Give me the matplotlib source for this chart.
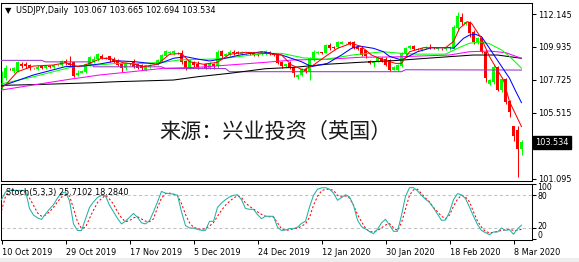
import matplotlib
matplotlib.use("Agg")
import matplotlib.pyplot as plt
import matplotlib.transforms as mtransforms
from matplotlib.patches import Rectangle

# ---------------- data ----------------
opens = [107.38, 107.85, 108.48, 108.30, 108.30, 108.82, 108.78, 108.72, 108.48, 108.45,
         108.62, 108.52, 108.68, 108.58, 108.72, 108.72, 108.97, 108.88, 108.90, 108.05,
         108.20, 108.25, 108.72, 108.90, 109.10, 109.35, 109.22, 109.30, 109.10, 109.00,
         108.80, 108.50, 108.80, 108.95, 108.80, 108.75, 108.40, 108.60, 108.70, 108.78,
         109.00, 109.35, 109.50, 109.50, 109.55, 109.50, 109.00, 108.55, 108.95, 108.80,
         108.58, 108.80, 108.55, 108.80, 108.65, 109.65, 109.35, 109.40, 109.60, 109.60,
         109.45, 109.45, 109.45, 109.55, 109.45, 109.45, 109.45, 109.60, 109.45, 109.50,
         108.92, 108.65, 108.85, 108.60, 107.88, 108.05, 108.45, 108.30, 109.10, 109.50,
         109.58, 109.55, 110.05, 109.95, 109.95, 110.15, 110.18, 110.25, 110.25, 109.95,
         109.85, 109.70, 109.00, 108.85, 108.95, 109.20, 109.15, 109.05, 108.40, 108.40,
         108.65, 109.45, 109.88, 110.00, 109.80, 109.70, 109.85, 109.95, 109.90, 109.80,
         109.82, 109.80, 109.85, 109.88, 111.23, 111.96, 111.45, 111.63, 110.96, 110.24,
         110.50, 109.60, 107.44, 107.60, 108.60, 107.04, 107.78, 106.30, 104.62, 104.35,
         103.067]
highs = [108.29, 108.72, 108.55, 108.60, 109.00, 108.95, 108.90, 108.80, 108.52, 108.70,
         108.70, 108.75, 108.75, 108.80, 108.78, 109.05, 109.10, 109.30, 108.95, 108.35,
         108.35, 108.85, 109.30, 109.30, 109.50, 109.45, 109.25, 109.35, 109.25, 109.10,
         108.90, 108.90, 108.85, 109.10, 108.85, 108.80, 108.75, 108.80, 108.75, 109.10,
         109.45, 109.70, 109.65, 109.70, 109.60, 109.70, 109.05, 109.10, 109.00, 109.00,
         108.60, 108.85, 108.90, 108.85, 109.70, 109.75, 109.50, 109.70, 109.75, 109.65,
         109.65, 109.50, 109.50, 109.60, 109.50, 109.65, 109.70, 109.65, 109.50, 109.55,
         109.00, 108.82, 109.00, 108.65, 108.10, 108.50, 108.60, 109.25, 109.70, 109.65,
         109.62, 110.10, 110.20, 110.00, 110.30, 110.30, 110.22, 110.30, 110.30, 110.00,
         109.95, 109.75, 109.05, 109.00, 109.30, 109.25, 109.25, 109.10, 108.65, 108.80,
         109.60, 109.95, 110.05, 110.05, 109.85, 109.92, 110.00, 110.15, 109.95, 109.90,
         109.85, 109.95, 110.00, 111.40, 112.28, 112.20, 111.65, 111.70, 111.05, 110.60,
         110.60, 109.70, 107.80, 108.70, 108.65, 107.90, 107.85, 106.40, 104.62, 104.60,
         103.665]
lows = [107.10, 107.71, 108.40, 108.20, 108.25, 108.55, 108.55, 108.40, 108.42, 108.40,
        108.45, 108.45, 108.50, 108.50, 108.68, 108.65, 108.70, 108.60, 107.90, 107.95,
        108.15, 108.20, 108.65, 108.85, 109.00, 109.10, 109.10, 108.95, 108.85, 108.65,
        108.25, 108.40, 108.75, 108.50, 108.45, 108.35, 108.30, 108.50, 108.65, 108.70,
        108.90, 109.30, 109.45, 109.40, 109.45, 108.80, 108.40, 108.45, 108.60, 108.45,
        108.52, 108.45, 108.45, 108.45, 108.55, 109.20, 109.30, 109.35, 109.40, 109.45,
        109.40, 109.40, 109.40, 109.35, 109.30, 109.40, 109.40, 109.40, 109.35, 108.80,
        108.55, 108.60, 108.45, 107.90, 107.80, 107.95, 108.20, 107.70, 109.00, 109.45,
        109.45, 109.50, 109.75, 109.80, 109.85, 110.10, 110.15, 110.05, 109.80, 109.75,
        109.30, 109.20, 108.80, 108.60, 108.90, 108.95, 108.65, 108.30, 108.35, 108.30,
        108.60, 109.40, 109.80, 109.70, 109.70, 109.65, 109.80, 109.80, 109.80, 109.75,
        109.75, 109.75, 109.70, 109.80, 111.00, 111.40, 111.40, 110.62, 110.10, 110.10,
        109.50, 107.55, 107.35, 107.45, 106.95, 106.90, 106.10, 105.20, 103.60, 101.20,
        102.694]
closes = [108.05, 108.50, 108.44, 108.50, 108.94, 108.65, 108.66, 108.50, 108.45, 108.60,
          108.50, 108.70, 108.58, 108.75, 108.74, 109.00, 108.85, 108.75, 108.00, 108.20,
          108.30, 108.78, 109.25, 109.15, 109.45, 109.20, 109.15, 109.05, 108.95, 108.75,
          108.55, 108.85, 108.78, 108.60, 108.55, 108.55, 108.70, 108.75, 108.70, 109.05,
          109.40, 109.65, 109.60, 109.68, 109.50, 108.90, 108.50, 109.05, 108.70, 108.60,
          108.56, 108.55, 108.85, 108.65, 109.60, 109.35, 109.45, 109.60, 109.50, 109.50,
          109.60, 109.45, 109.44, 109.40, 109.38, 109.60, 109.65, 109.45, 109.40, 108.85,
          108.65, 108.78, 108.50, 108.15, 108.05, 108.43, 108.30, 109.17, 109.60, 109.58,
          109.50, 110.05, 109.85, 109.85, 110.25, 110.25, 110.20, 110.10, 109.85, 109.80,
          109.40, 109.30, 108.85, 108.95, 109.25, 109.00, 108.75, 108.38, 108.60, 108.75,
          109.55, 109.88, 110.00, 109.80, 109.75, 109.88, 109.95, 109.90, 109.85, 109.85,
          109.80, 109.90, 109.95, 111.29, 112.03, 111.63, 111.60, 110.85, 110.29, 110.51,
          109.60, 107.87, 107.71, 108.60, 107.04, 107.78, 106.26, 105.54, 103.95, 103.08,
          103.534]

# moving averages (bar index, price)
ma_red_x = [0, 1, 4, 8, 13, 16, 19, 21, 25, 27, 30.5, 33, 35.5, 39, 42, 45, 47, 50.5, 54, 57,
            61, 66, 70, 72.5, 75.5, 78, 81.5, 84, 87.5, 90, 92.5, 95, 98.5, 100, 102, 105.5,
            111, 113, 114.5, 116.5, 117.5, 120, 122, 123.5, 125.5, 127, 130]
ma_red_y = [107.20, 107.38, 108.27, 108.65, 108.72, 108.87, 108.61, 108.72, 109.17, 109.17,
            108.87, 108.79, 108.61, 108.77, 109.44, 109.50, 108.94, 108.77, 108.90, 109.44,
            109.57, 109.50, 109.40, 108.72, 108.38, 108.72, 109.39, 109.84, 110.18, 109.95,
            109.39, 109.10, 108.83, 108.83, 109.61, 109.88, 109.88, 110.30, 111.18, 111.63,
            111.52, 110.50, 109.28, 108.60, 107.71, 106.26, 104.58]
ma_blue_x = [0, 8, 16, 20.5, 24.6, 29, 33.4, 39, 43, 46, 49, 52, 55, 59.6, 65, 70, 75, 77.5,
             81.5, 85, 87.5, 89.5, 93, 95.5, 97, 100, 104, 107.5, 112, 113, 115.5, 117, 118.5,
             120, 122, 124.5, 127, 128.6, 130]
ma_blue_y = [107.30, 108.05, 108.61, 108.65, 108.79, 109.00, 108.94, 108.77, 109.17, 109.28,
             109.12, 108.99, 109.12, 109.39, 109.61, 109.39, 108.94, 108.61, 108.83, 109.39,
             109.84, 109.99, 109.84, 109.61, 109.30, 109.06, 109.61, 109.88, 109.88, 109.84,
             110.51, 110.73, 110.78, 110.62, 109.84, 108.83, 107.83, 106.93, 106.19]
ma_green_x = [0, 8, 14.6, 18, 24, 29, 33, 40.5, 44.5, 53, 57, 66, 70, 75.5, 81, 88, 95.4, 100,
              104, 111, 114, 117, 119.6, 122, 125, 127, 130]
ma_green_y = [107.45, 107.93, 108.38, 108.61, 108.72, 108.83, 108.80, 108.90, 109.06, 109.12,
              109.21, 109.50, 109.50, 109.20, 109.10, 109.40, 109.61, 109.50, 109.45, 109.45,
              109.84, 110.18, 110.27, 110.15, 109.73, 109.30, 108.50]
ma_magenta_x = [0, 8, 17, 24.6, 33, 40.5, 49, 57, 66, 73, 81, 90, 98, 112, 117, 122, 126, 130]
ma_magenta_y = [107.04, 107.38, 107.76, 108.05, 108.28, 108.50, 108.56, 108.72, 108.90, 109.06,
                109.10, 109.24, 109.26, 109.39, 109.61, 109.66, 109.55, 109.17]
ma_black_x = [0, 10.5, 23, 29, 33, 43, 49, 57, 66, 73, 81.4, 89.6, 98, 112, 118, 124, 130]
ma_black_y = [107.35, 107.42, 107.53, 107.60, 107.63, 107.71, 107.93, 108.16, 108.47, 108.56,
              108.77, 108.90, 109.01, 109.28, 109.39, 109.39, 109.17]
ma_purple_x = [0, 10, 11, 22, 23, 40, 41, 56, 57, 100, 101, 130]
ma_purple_y = [109.03, 109.03, 108.93, 108.93, 108.60, 108.60, 108.48, 108.48, 108.27, 108.27,
               108.40, 108.38]

stoch_k = [72, 86, 89, 89, 89, 89, 88, 56, 44, 39, 36, 46, 55, 63, 75, 84, 86, 70, 28, 16,
           16, 37, 58, 68, 76, 80, 79, 62, 50, 38, 28, 33, 40, 47, 40, 30, 28, 34, 50, 68,
           87, 84, 83, 82, 80, 50, 25, 20.6, 20.6, 18, 16.3, 16.3, 32.7, 32.7, 58, 66, 72, 77, 80, 81,
           72, 56, 54.5, 54.5, 45, 37.5, 42, 42, 41.8, 22, 16, 17, 19.4, 19.4, 22, 29, 32.7, 58.7, 80, 91,
           93.5, 93.9, 91, 84, 70.9, 76, 81, 77, 62, 35, 23, 19, 14, 10.3, 18, 30, 36.3, 26, 14.5, 14.5,
           43.6, 78, 93.9, 93.9, 88, 80, 73, 67, 57, 46, 34.5, 35, 49.7, 72, 83, 81, 74, 58.7, 42, 27,
           16, 12, 8.5, 13.3, 13.3, 20.6, 16.3, 17.5, 9.1, 19, 25.71]
stoch_d = [52, 78, 90, 91, 88, 87, 86, 75, 62, 48, 42, 44, 50, 58, 68, 77, 80, 79, 56, 32,
           19.4, 22, 38, 53, 67, 74, 80, 73, 64, 50, 39, 32, 34, 39, 41, 37, 33, 32, 37, 58,
           75, 83, 84, 82, 80, 65, 45, 30, 22, 19.4, 18, 19.4, 24, 30.3, 42, 52.7, 62, 69, 75, 79,
           76, 66, 60, 55, 50, 45.4, 42, 41, 40.6, 30, 19, 16.3, 17, 19.4, 20, 24, 28, 40, 62, 78,
           88, 91, 91, 89, 80, 77, 78.8, 75, 62, 45, 32, 20, 14, 13.5, 16, 21, 26, 28.5, 21, 16,
           30, 55, 80, 90, 91, 83, 75, 68, 58, 50, 42, 37.5, 44, 60, 73, 80, 77, 68, 50, 33,
           22, 14, 12, 12.5, 14.5, 16, 17, 18.2, 16.3, 16, 18.28]

price_ticks = [112.145, 109.935, 107.725, 105.515, 103.305, 101.095]
stoch_levels = [100, 80, 20, 0]
date_tick_idx = [0, 16, 32, 48, 64, 80, 96, 112, 128]
date_tick_labels = ["10 Oct 2019", "29 Oct 2019", "17 Nov 2019", "5 Dec 2019", "24 Dec 2019",
                    "12 Jan 2020", "30 Jan 2020", "18 Feb 2020", "8 Mar 2020"]
title_text = "USDJPY,Daily  103.067 103.665 102.694 103.534"
stoch_text = "Stoch(5,3,3) 25.7102 18.2840"
last_price = 103.534
watermark = "来源：兴业投资（英国）"

# ---------------- figure ----------------
W, H = 579, 262
fig = plt.figure(figsize=(W / 100, H / 100), dpi=100)
fig.patch.set_facecolor("white")

def fx(px):
    return px / W

def fy(py):
    return 1 - py / H

FS = 5.9
LW = 0.75

# light window strip at the bottom
fig.patches.append(Rectangle((0, 0), 1, 4.5 / H, transform=fig.transFigure,
                             facecolor="#eeeeee", edgecolor="none", zorder=0))

ax = fig.add_axes([fx(0.5), fy(180.7), fx(531.5), (180.7 - 3) / H])
ax2 = fig.add_axes([fx(0.5), fy(240.3), fx(531.5), (240.3 - 184.3) / H])

n = len(closes)
xs = list(range(n))
bull, bear = "#00ff00", "#ff0000"
for i in xs:
    o, h, l, c = opens[i], highs[i], lows[i], closes[i]
    col = bull if c >= o else bear
    ax.vlines(i, l, h, color=col, lw=LW, zorder=2)
    ax.bar(i, max(abs(c - o), 0.02), bottom=min(o, c), width=0.78, color=col,
           linewidth=0, zorder=2)

ax.plot(ma_purple_x, ma_purple_y, color="#9933cc", lw=LW, zorder=3)
ax.plot(ma_black_x, ma_black_y, color="black", lw=LW, zorder=3)
ax.plot(ma_magenta_x, ma_magenta_y, color="#ff00ff", lw=LW, zorder=3)
ax.plot(ma_green_x, ma_green_y, color="#00ff00", lw=LW, zorder=3)
ax.plot(ma_blue_x, ma_blue_y, color="#0000ff", lw=LW, zorder=3)
ax.plot(ma_red_x, ma_red_y, color="#ff0000", lw=LW, zorder=3)

ax.set_xlim((0.5 - 1.5) / 4, (532 - 1.5) / 4)
ax.set_ylim(112.145 - (180.7 - 14) * 0.06717, 112.145 + (14 - 3) * 0.06717)
ax.set_xticks([])
ax.yaxis.tick_right()
ax.set_yticks(price_ticks)
ax.set_yticklabels(["%.3f" % v for v in price_ticks])
ax.tick_params(axis="y", length=3, width=LW, pad=1.5, labelsize=FS, direction="out")
for s in ax.spines.values():
    s.set_linewidth(LW)

trans = mtransforms.blended_transform_factory(ax.transAxes, ax.transData)
ax.text(1.0 + 3.5 / 531.5, last_price, "%.3f" % last_price, transform=trans, color="white",
        fontsize=FS, va="center", ha="left", zorder=10, clip_on=False,
        bbox=dict(boxstyle="square,pad=0.25", facecolor="black", edgecolor="black"))

# stochastic
ax2.axhline(80, color="#c0c0c0", lw=LW, dashes=(3, 2.5), zorder=1)
ax2.axhline(20, color="#c0c0c0", lw=LW, dashes=(3, 2.5), zorder=1)
ax2.plot(xs, stoch_d, color="#ff0000", lw=LW, dashes=(2, 2), zorder=2)
ax2.plot(xs, stoch_k, color="#20b2aa", lw=LW, zorder=3)
ax2.set_xlim(ax.get_xlim())
ax2.set_ylim((239.3 - 240.3) / 0.55, 100)
ax2.yaxis.tick_right()
ax2.set_yticks(stoch_levels)
ax2.set_yticklabels([])
ax2.tick_params(axis="y", length=3, width=LW, direction="out")
label_pos = {100: 94.5, 80: 77.5, 20: 23.0, 0: 6.5}
trans2 = mtransforms.blended_transform_factory(ax2.transAxes, ax2.transData)
for lv in stoch_levels:
    ax2.text(1.0 + 5 / 531.5, label_pos[lv], str(lv), transform=trans2, fontsize=FS - 0.3,
             va="center", ha="left", clip_on=False)
ax2.set_xticks(date_tick_idx)
ax2.set_xticklabels(date_tick_labels, ha="left")
ax2.tick_params(axis="x", length=3, width=LW, pad=2.5, labelsize=FS, direction="out")
for s in ax2.spines.values():
    s.set_linewidth(LW)
ax2.text(5 / 531.5, 0.86, stoch_text, transform=ax2.transAxes, fontsize=FS,
         va="center", ha="left", zorder=5)

# header
fig.text(fx(4.5), fy(10.5), "▼", fontsize=6, va="center", ha="left")
fig.text(fx(16), fy(10.5), title_text, fontsize=FS, va="center", ha="left")

# watermark
fig.text(fx(275.5), fy(132), watermark, fontsize=15.2, va="center", ha="center",
         color="#1a1a1a", family=["Noto Sans CJK SC", "DejaVu Sans"])

fig.savefig("out.png", dpi=100, facecolor="white")
